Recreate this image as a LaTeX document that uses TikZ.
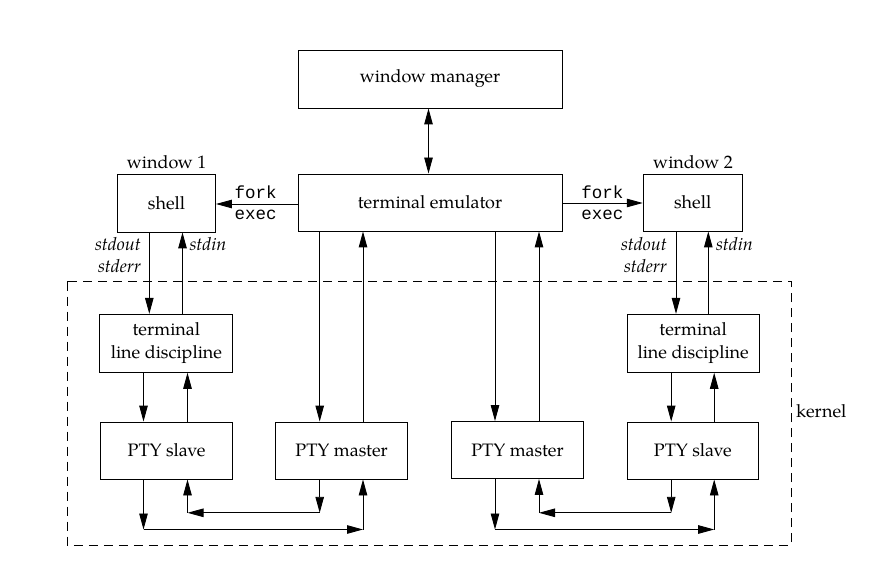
\documentclass[tikz,border=0pt]{standalone}
\usepackage{fontspec}
\setmainfont{TeX Gyre Pagella}
\setmonofont{Liberation Mono}
\usetikzlibrary{arrows.meta}
\begin{document}
\begin{tikzpicture}[x=1pt,y=-1pt,
  box/.style={draw, line width=0.9pt, inner sep=0pt, align=center, font=\fontsize{18}{23}\selectfont},
  lbl/.style={inner sep=0pt, font=\fontsize{18}{23}\selectfont},
  ilbl/.style={inner sep=0pt, font=\fontsize{18}{23}\selectfont\itshape},
  mono/.style={inner sep=0pt, font=\fontsize{17.5}{22}\selectfont\ttfamily},
  arr/.style={-{Triangle[length=16pt,width=8.5pt]}, line width=0.9pt},
  dbl/.style={{Triangle[length=16pt,width=8.5pt]}-{Triangle[length=16pt,width=8.5pt]}, line width=0.9pt},
  kern/.style={draw, line width=0.9pt, dash pattern=on 9pt off 6pt}]
\useasboundingbox (0,0) rectangle (875,569);

% kernel region
\draw[kern] (67.3,281.5) rectangle (791,545);
\node[lbl, anchor=west] (kernel) at (796,411) {kernel};

% boxes
\node[box, minimum width=264pt, minimum height=58pt] (wm) at (430,79) {window manager};
\node[box, minimum width=264pt, minimum height=57pt] (te) at (430,202.5) {terminal emulator};
\node[box, minimum width=98pt, minimum height=58pt] (sh1) at (166.5,203) {shell};
\node[box, minimum width=99pt, minimum height=57pt] (sh2) at (692.7,202.5) {shell};
\node[box, minimum width=133pt, minimum height=58pt] (tld1) at (166.4,343.3) {terminal\\line discipline};
\node[box, minimum width=132pt, minimum height=58pt] (tld2) at (693.2,343.3) {terminal\\line discipline};
\node[box, minimum width=132.5pt, minimum height=57pt] (ps1) at (166.5,450.5) {PTY slave};
\node[box, minimum width=131.5pt, minimum height=57pt] (pm1) at (341.6,450.5) {PTY master};
\node[box, minimum width=131.5pt, minimum height=57pt] (pm2) at (517.5,450) {PTY master};
\node[box, minimum width=131pt, minimum height=57pt] (ps2) at (692.8,450.5) {PTY slave};

% window labels
\node[lbl] (w1) at (166.7,162) {window 1};
\node[lbl] (w2) at (693,162) {window 2};

% x positions
\coordinate (xwm) at (428.5,0);
\coordinate (a1) at (149.3,0);
\coordinate (a2) at (182.5,0);
\coordinate (b1) at (143.5,0);
\coordinate (b2) at (187.5,0);
\coordinate (c1) at (319.7,0);
\coordinate (c2) at (363,0);
\coordinate (d1) at (495,0);
\coordinate (d2) at (539,0);
\coordinate (e1) at (676,0);
\coordinate (e2) at (708.3,0);
\coordinate (f1) at (671.2,0);
\coordinate (f2) at (714.2,0);
\coordinate (yo) at (0,529.5);
\coordinate (yi) at (0,512.8);

% window manager <-> terminal emulator
\draw[dbl] (xwm |- wm.south) -- (xwm |- te.north);

% fork/exec
\draw[arr] (te.west |- 0,204) -- (sh1.east |- 0,204);
\draw[arr] (te.east |- 0,203) -- (sh2.west |- 0,203);
\node[mono] (fork1) at (255.7,192.7) {fork};
\node[mono] (exec1) at (255.7,214.5) {exec};
\node[mono] (fork2) at (602.3,192.7) {fork};
\node[mono] (exec2) at (602.3,214.5) {exec};

% shell 1 <-> line discipline 1
\draw[arr] (a1 |- sh1.south) -- (a1 |- tld1.north);
\draw[arr] (a2 |- tld1.north) -- (a2 |- sh1.south);
\node[ilbl, anchor=east] (so1) at (141,244.5) {stdout};
\node[ilbl, anchor=east] (se1) at (141,266.5) {stderr};
\node[ilbl, anchor=west] (si1) at (189.5,244.5) {stdin};

% shell 2 <-> line discipline 2
\draw[arr] (e1 |- sh2.south) -- (e1 |- tld2.north);
\draw[arr] (e2 |- tld2.north) -- (e2 |- sh2.south);
\node[ilbl, anchor=east] (so2) at (667,244.5) {stdout};
\node[ilbl, anchor=east] (se2) at (667,266.5) {stderr};
\node[ilbl, anchor=west] (si2) at (716,244.5) {stdin};

% line discipline <-> PTY slave
\draw[arr] (b1 |- tld1.south) -- (b1 |- ps1.north);
\draw[arr] (b2 |- ps1.north) -- (b2 |- tld1.south);
\draw[arr] (f1 |- tld2.south) -- (f1 |- ps2.north);
\draw[arr] (f2 |- ps2.north) -- (f2 |- tld2.south);

% terminal emulator <-> PTY masters
\draw[arr] (c1 |- te.south) -- (c1 |- pm1.north);
\draw[arr] (c2 |- pm1.north) -- (c2 |- te.south);
\draw[arr] (d1 |- te.south) -- (d1 |- pm2.north);
\draw[arr] (d2 |- pm2.north) -- (d2 |- te.south);

% left loops
\draw[arr] (b1 |- ps1.south) -- (b1 |- yo);
\draw[arr] (b1 |- yo) -- (c2 |- yo);
\draw[arr] (c2 |- yo) -- (c2 |- pm1.south);
\draw[arr] (c1 |- pm1.south) -- (c1 |- yi);
\draw[arr] (c1 |- yi) -- (b2 |- yi);
\draw[arr] (b2 |- yi) -- (b2 |- ps1.south);

% right loops
\draw[arr] (d1 |- pm2.south) -- (d1 |- yo);
\draw[arr] (d1 |- yo) -- (f2 |- yo);
\draw[arr] (f2 |- yo) -- (f2 |- ps2.south);
\draw[arr] (f1 |- ps2.south) -- (f1 |- yi);
\draw[arr] (f1 |- yi) -- (d2 |- yi);
\draw[arr] (d2 |- yi) -- (d2 |- pm2.south);
\end{tikzpicture}
\end{document}
